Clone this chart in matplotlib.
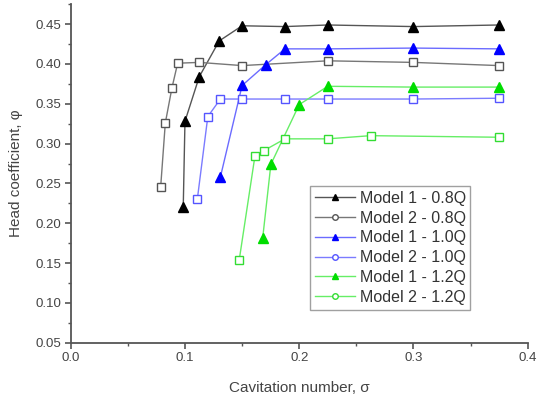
import matplotlib
matplotlib.use("Agg")
import matplotlib.pyplot as plt
from matplotlib.lines import Line2D
from matplotlib.ticker import MultipleLocator, FormatStrFormatter

plt.rcParams['font.family'] = ['Liberation Sans', 'DejaVu Sans']

# cavitation number (sigma) and head coefficient (phi) for each run
m1_08_x = [0.0985, 0.1, 0.1125, 0.13, 0.15, 0.1875, 0.225, 0.3, 0.375]
m1_08_y = [0.221, 0.328, 0.384, 0.429, 0.448, 0.447, 0.449, 0.447, 0.449]

m2_08_x = [0.0787, 0.0828, 0.0886, 0.0936, 0.1125, 0.15, 0.225, 0.3, 0.375]
m2_08_y = [0.245, 0.326, 0.370, 0.401, 0.402, 0.398, 0.404, 0.402, 0.398]

m1_10_x = [0.131, 0.15, 0.1706, 0.1875, 0.225, 0.3, 0.375]
m1_10_y = [0.258, 0.373, 0.399, 0.419, 0.419, 0.420, 0.419]

m2_10_x = [0.1108, 0.12, 0.131, 0.15, 0.1875, 0.225, 0.3, 0.375]
m2_10_y = [0.230, 0.334, 0.356, 0.356, 0.356, 0.356, 0.356, 0.357]

m1_12_x = [0.168, 0.1752, 0.2, 0.225, 0.3, 0.375]
m1_12_y = [0.181, 0.274, 0.349, 0.372, 0.371, 0.371]

m2_12_x = [0.1475, 0.1612, 0.1688, 0.1875, 0.225, 0.2625, 0.375]
m2_12_y = [0.154, 0.284, 0.291, 0.306, 0.306, 0.310, 0.308]

labels = ['Model 1 - 0.8Q', 'Model 2 - 0.8Q', 'Model 1 - 1.0Q',
          'Model 2 - 1.0Q', 'Model 1 - 1.2Q', 'Model 2 - 1.2Q']

# (x, y, line colour, marker colour, marker, filled)
series = [
    (m1_08_x, m1_08_y, '#555555', '#000000', '^', True),
    (m2_08_x, m2_08_y, '#777777', '#555555', 's', False),
    (m1_10_x, m1_10_y, '#6b6bff', '#0000ff', '^', True),
    (m2_10_x, m2_10_y, '#7b7bff', '#5555ff', 's', False),
    (m1_12_x, m1_12_y, '#66ee66', '#00dd00', '^', True),
    (m2_12_x, m2_12_y, '#66ee66', '#33dd33', 's', False),
]

fig = plt.figure(figsize=(5.37, 4.0), dpi=100)
ax = fig.add_axes([0.1317, 0.1433, 0.851, 0.846])

handles = []
for (x, y, lc, mc, mk, filled), lab in zip(series, labels):
    ms = 6.5 if mk == '^' else 6
    ax.plot(x, y, color=lc, lw=1.0, marker=mk, ms=ms,
            mfc=mc if filled else 'white', mec=mc, mew=1.0, zorder=3)
    handles.append(Line2D([], [], color=lc, lw=1.0,
                          marker='^' if mk == '^' else 'o', ms=5 if filled else 4,
                          mfc=mc if filled else 'white', mec=mc, mew=1.0))

ax.set_xlim(0.0, 0.4)
ax.set_ylim(0.05, 0.475)
ax.xaxis.set_major_locator(MultipleLocator(0.1))
ax.xaxis.set_minor_locator(MultipleLocator(0.05))
ax.yaxis.set_major_locator(MultipleLocator(0.05))
ax.yaxis.set_minor_locator(MultipleLocator(0.025))
ax.xaxis.set_major_formatter(FormatStrFormatter('%.1f'))
ax.yaxis.set_major_formatter(FormatStrFormatter('%.2f'))

for side in ('top', 'right'):
    ax.spines[side].set_visible(False)
for side in ('left', 'bottom'):
    ax.spines[side].set_color('#555555')
    ax.spines[side].set_linewidth(1.3)

ax.tick_params(which='major', direction='out', length=4, width=1.2,
               color='#555555', labelsize=9.5, labelcolor='#444444', pad=3)
ax.tick_params(which='minor', direction='out', length=2.5, width=1.0,
               color='#555555')

ax.set_xlabel('Cavitation number, σ', fontsize=11, color='#444444', labelpad=12)
ax.set_ylabel('Head coefficient, φ', fontsize=11, color='#444444', labelpad=9)

leg = ax.legend(handles, labels, loc='upper left', bbox_to_anchor=(0.5236, 0.463),
                fontsize=11.5, frameon=True, fancybox=False, handlelength=2.5,
                labelspacing=0.3, borderpad=0.3, handletextpad=0.3,
                borderaxespad=0)
leg.get_frame().set_edgecolor('#888888')
leg.get_frame().set_linewidth(1.0)
for t in leg.get_texts():
    t.set_color('#333333')

fig.savefig('out.png', dpi=100)
